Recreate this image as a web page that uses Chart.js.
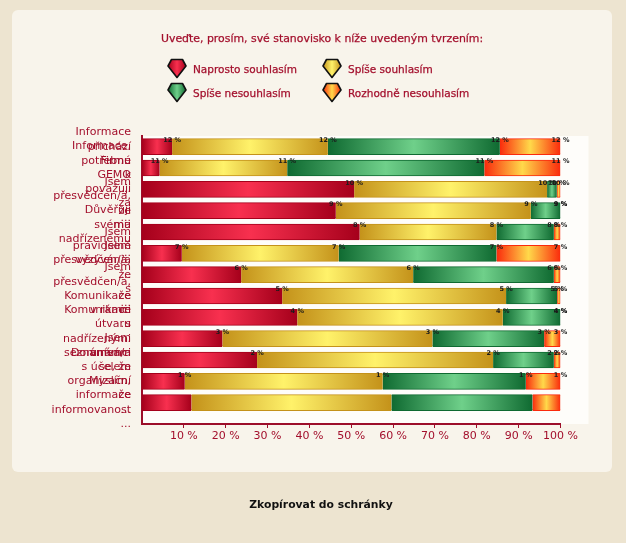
<!DOCTYPE html>
<html lang="cs">
<head>
<meta charset="utf-8">
<title>Stanovisko zaměstnanců</title>
<script src="https://cdn.jsdelivr.net/npm/chart.js@4.4.1/dist/chart.umd.min.js"></script>
<style>
  html, body { margin: 0; padding: 0; }
  body {
    width: 626px; height: 543px; position: relative; overflow: hidden;
    background: #ede4d0;
    font-family: "DejaVu Sans", Verdana, sans-serif;
  }
  #panel {
    position: absolute; left: 12px; top: 10px; width: 600px; height: 462px;
    background: #f8f4eb; border-radius: 6px;
  }
  #chart { position: absolute; left: 0; top: 0; }
  #title {
    position: absolute; left: 161px; top: 32px;
    font-size: 10.9px; line-height: 14px; color: #a30f2c; white-space: nowrap;
    -webkit-text-stroke: 0.25px #a30f2c;
  }
  .lg-item {
    position: absolute; height: 21px; display: flex; align-items: center;
    font-size: 10.5px; color: #a30f2c; white-space: nowrap;
    -webkit-text-stroke: 0.25px #a30f2c;
  }
  .lg-item svg { margin-right: 6px; flex: none; }
  #copy {
    position: absolute; left: 0; width: 642px; top: 498px; text-align: center;
    font-size: 10.8px; font-weight: bold; color: #111;
  }
</style>
</head>
<body>
<div id="panel"></div>
<canvas id="chart" width="626" height="543"></canvas>
<div id="title">Uveďte, prosím, své stanovisko k níže uvedeným tvrzením:</div>
<div id="legend"></div>
<div id="copy">Zkopírovat do schránky</div>

<script>
// Statements (wrapped into lines as shown on the axis)
const statements = [
  ["Informace", "přichází", "..."],
  ["Informace,", "potřebné", "k", "..."],
  ["Firmu", "GEMO", "považuji", "za", "..."],
  ["Jsem", "přesvědčen/a,", "že", "ma", "..."],
  ["Důvěřuji", "svému", "nadřízenému", "..."],
  ["Jsem", "pravidelně", "vyzýván/a", "..."],
  ["Jsem", "přesvědčen/a,", "že", "s", "..."],
  ["Jsem", "přesvědčen/a,", "že", "m", "..."],
  ["Komunikace", "v rámci", "útvaru", "..."],
  ["Komunikace", "s", "nadřízenými", "v rámci", "..."],
  ["Jsem", "seznámen/a", "s účelem", "..."],
  ["Domnívám", "se, že", "organizační", "informace", "..."],
  ["Myslím,", "že", "informovanost", "..."]
];

// Answer shares in percent, one value per statement
const naprostoSouhlasim   = [7.2, 4.2, 50.7, 46.3, 52.0, 9.5, 23.7, 33.5, 37.1, 19.2, 27.5, 10.2, 11.8];
const spiseSouhlasim      = [37.2, 30.5, 46.1, 46.6, 32.7, 37.5, 41.1, 53.5, 49.1, 50.2, 56.4, 47.3, 47.8];
const spiseNesouhlasim    = [41.1, 47.1, 2.3, 7.1, 13.7, 37.7, 33.6, 12.2, 13.8, 26.7, 14.5, 34.2, 33.7];
const rozhodneNesouhlasim = [14.5, 18.2, 0.9, 0.0, 1.6, 15.3, 1.6, 0.8, 0.0, 3.9, 1.6, 8.3, 6.7];

// Small tags printed at the end of every segment of a row
const segmentTags = [12, 11, 10, 9, 8, 7, 6, 5, 4, 3, 2, 1, null];

// Percentage ticks on the horizontal axis
const xTickValues = [10, 20, 30, 40, 50, 60, 70, 80, 90, 100];

const seriesNames = ["Naprosto souhlasím", "Spíše souhlasím", "Spíše nesouhlasím", "Rozhodně nesouhlasím"];
const seriesValues = [naprostoSouhlasim, spiseSouhlasim, spiseNesouhlasim, rozhodneNesouhlasim];

// Glossy palette: [edge, highlight]
const palette = [
  ["#a5001b", "#f8304f"],
  ["#c4921a", "#fff26a"],
  ["#0f6a31", "#6fd08a"],
  ["#fa2a0c", "#ffd94a"]
];
const TEXT_RED = "#a30f2c";

// Legend with pentagon badges
const legendPos = [[167, 58], [322, 58], [167, 82], [322, 82]];
const legendEl = document.getElementById("legend");
seriesNames.forEach((name, i) => {
  const [edge, hi] = palette[i];
  const item = document.createElement("div");
  item.className = "lg-item";
  item.style.left = legendPos[i][0] + "px";
  item.style.top = legendPos[i][1] + "px";
  item.innerHTML =
    '<svg width="20" height="21" viewBox="0 0 20 21">' +
    '<defs><linearGradient id="lg' + i + '" x1="0" y1="0" x2="1" y2="0">' +
    '<stop offset="0" stop-color="' + edge + '"/><stop offset="0.5" stop-color="' + hi + '"/>' +
    '<stop offset="1" stop-color="' + edge + '"/></linearGradient></defs>' +
    '<path d="M4.5 1.5 L15.5 1.5 L19 8 L10 19.5 L1 8 Z" fill="url(#lg' + i + ')" stroke="#111" stroke-width="1.6" stroke-linejoin="round"/>' +
    '</svg><span>' + name + '</span>';
  legendEl.appendChild(item);
});

// Horizontal gradient across one stacked segment
function segmentFill(ctx) {
  const chart = ctx.chart;
  const d = ctx.datasetIndex, i = ctx.dataIndex;
  const [edge, hi] = palette[d];
  const xs = chart.scales.x;
  if (!xs || !chart.chartArea) return hi;
  let start = 0;
  for (let k = 0; k < d; k++) start += seriesValues[k][i];
  const end = start + seriesValues[d][i];
  const x0 = xs.getPixelForValue(start), x1 = xs.getPixelForValue(end);
  if (x1 - x0 < 1) return edge;
  const g = chart.ctx.createLinearGradient(x0, 0, x1, 0);
  g.addColorStop(0, edge);
  g.addColorStop(0.5, hi);
  g.addColorStop(1, edge);
  return g;
}

const datasets = seriesNames.map((name, d) => ({
  label: name,
  data: seriesValues[d].map((v, i) => ({ x: v, y: i })),
  backgroundColor: segmentFill,
  borderColor: palette[d][0],
  borderWidth: { top: 1, bottom: 1, left: 0, right: 0 },
  borderSkipped: false,
  barThickness: 16
}));

// White plotting box behind the bars
const plotBox = {
  id: "plotBox",
  beforeDraw(chart) {
    const { ctx, chartArea: a } = chart;
    ctx.save();
    ctx.fillStyle = "#fefdfa";
    ctx.fillRect(a.left, a.top, a.right - a.left + 28, a.bottom - a.top);
    ctx.restore();
  }
};

// Tags at the end of each segment
const tagPlugin = {
  id: "segmentTags",
  afterDatasetsDraw(chart) {
    const ctx = chart.ctx;
    ctx.save();
    ctx.font = 'bold 6.5px "DejaVu Sans"';
    ctx.fillStyle = "#1c1c1c";
    ctx.textAlign = "center";
    ctx.textBaseline = "middle";
    chart.data.datasets.forEach((ds, d) => {
      chart.getDatasetMeta(d).data.forEach((bar, i) => {
        const tag = segmentTags[i];
        if (tag === null) return;
        const p = bar.getProps(["x", "y", "height"], true);
        ctx.fillText(tag + " %", p.x, p.y - p.height / 2 + 1.5);
      });
    });
    ctx.restore();
  }
};

new Chart(document.getElementById("chart"), {
  type: "bar",
  data: { datasets },
  plugins: [plotBox, tagPlugin],
  options: {
    indexAxis: "y",
    responsive: false,
    animation: false,
    devicePixelRatio: 1,
    layout: { padding: { left: 0, top: 136, right: 65.5, bottom: 89 } },
    plugins: { legend: { display: false }, title: { display: false }, tooltip: { enabled: false } },
    scales: {
      x: {
        type: "linear",
        stacked: true,
        min: 0,
        max: 100,
        afterBuildTicks: s => { s.ticks = xTickValues.map(v => ({ value: v })); },
        afterFit: s => { s.height = 30; },
        ticks: {
          color: TEXT_RED,
          font: { family: "DejaVu Sans", size: 11 },
          padding: 2,
          callback: v => v + " %"
        },
        grid: { display: true, drawOnChartArea: false, drawTicks: true, tickLength: 4, color: "#9c0e2a", lineWidth: 1 },
        border: { display: true, color: "#9c0e2a", width: 2 }
      },
      y: {
        type: "linear",
        stacked: true,
        reverse: true,
        offset: false,
        min: -0.5,
        max: 13,
        afterBuildTicks: s => { s.ticks = statements.map((_, i) => ({ value: i })); },
        afterFit: s => { s.width = 142; },
        ticks: {
          autoSkip: false,
          color: TEXT_RED,
          font: { family: "DejaVu Sans", size: 11, lineHeight: 1.3 },
          padding: 3,
          callback: v => statements[v] || ""
        },
        grid: { display: false },
        border: { display: true, color: "#9c0e2a", width: 2 }
      }
    }
  }
});
</script>
</body>
</html>
